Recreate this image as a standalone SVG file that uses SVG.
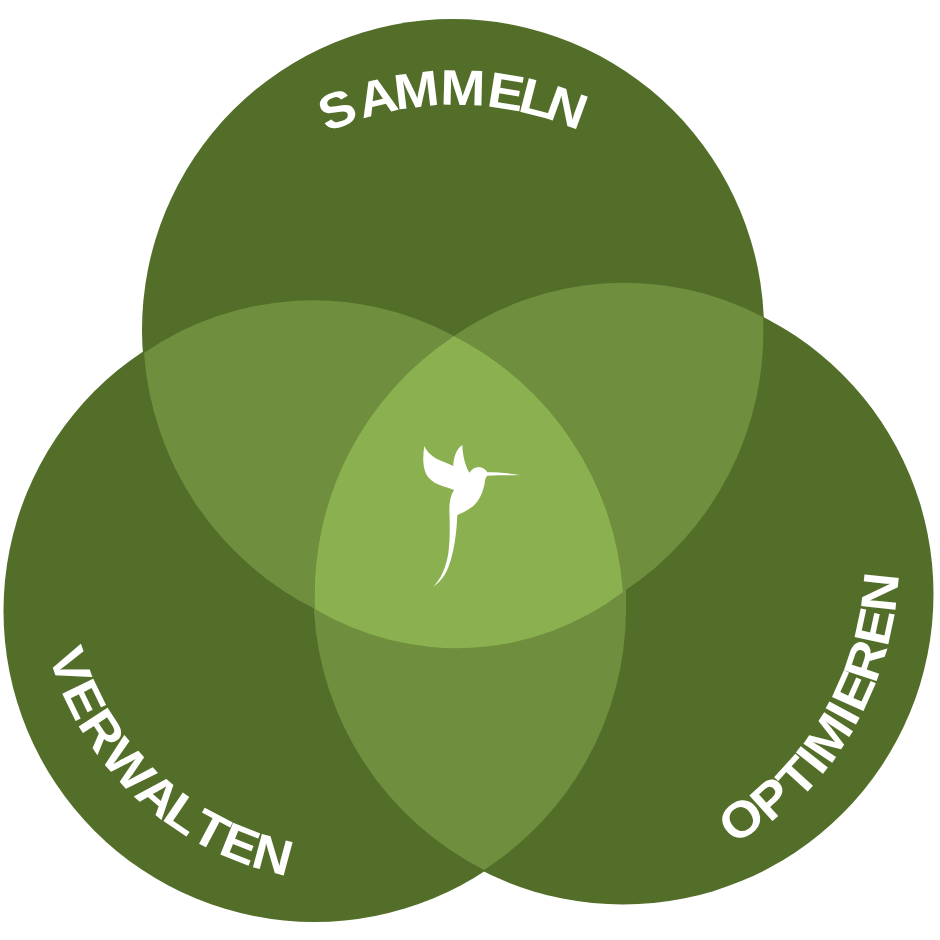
<svg xmlns="http://www.w3.org/2000/svg" width="940" height="940" viewBox="0 0 940 940">
<style>
.c{fill:#536e28}
.o{fill:#6f8e3e}
.m{fill:#8ab04f}
.l{font-family:"Liberation Sans",Arial,sans-serif;font-weight:700;font-size:50px;fill:#fff;text-anchor:middle}
</style>
<g id="circles">
<circle id="circle-top" class="c" cx="453" cy="330" r="311"/>
<circle id="circle-left" class="c" cx="314.500" cy="611" r="311"/>
<circle id="circle-right" class="c" cx="623" cy="594" r="310.500"/>
<path id="overlap-left" class="o" d="M144 353A297 297 0 0 1 454 336A309 309 0 0 0 315 609A311 311 0 0 1 144 353Z"/>
<path id="overlap-right" class="o" d="M454 336A298 298 0 0 1 763 317A311 311 0 0 1 623 592A310 310 0 0 0 454 336Z"/>
<path id="overlap-bottom" class="o" d="M314 600L626 585L626 612A311 311 0 0 1 484 870A311 311 0 0 1 314 612Z"/>
<path id="overlap-center" class="m" d="M454 336A310 310 0 0 1 623 592A275 275 0 0 1 315 609A309 309 0 0 1 454 336Z"/>
</g>
<g id="sammeln" class="l">
<text transform="translate(455 415) rotate(-21.100) translate(0 -310) scale(1.080 1)">S</text>
<text transform="translate(455 415) rotate(-13.800) translate(0 -310) scale(1.080 1)">A</text>
<text transform="translate(455 415) rotate(-6.800) translate(0 -310) scale(1.080 1)">M</text>
<text transform="translate(455 415) rotate(1.400) translate(0 -310) scale(1.080 1)">M</text>
<text transform="translate(455 415) rotate(9) translate(0 -310) scale(1.080 1)">E</text>
<text transform="translate(455 415) rotate(14.500) translate(0 -310) scale(1.080 1)">L</text>
<text transform="translate(455 415) rotate(20) translate(0 -310) scale(1.080 1)">N</text>
</g>
<g id="optimieren" class="l">
<text transform="translate(555 558) rotate(-35.500) translate(0 338) scale(1.080 1)">O</text>
<text transform="translate(555 558) rotate(-42) translate(0 341) scale(1.080 1)">P</text>
<text transform="translate(555 558) rotate(-47.900) translate(0 344) scale(1.080 1)">T</text>
<text transform="translate(555 558) rotate(-51.800) translate(0 344) scale(1.080 1)">I</text>
<text transform="translate(555 558) rotate(-56.700) translate(0 344) scale(1.080 1)">M</text>
<text transform="translate(555 558) rotate(-61.700) translate(0 344) scale(1.080 1)">I</text>
<text transform="translate(555 558) rotate(-66) translate(0 344) scale(1.080 1)">E</text>
<text transform="translate(555 558) rotate(-71.700) translate(0 344) scale(1.080 1)">R</text>
<text transform="translate(555 558) rotate(-77.900) translate(0 344) scale(1.080 1)">E</text>
<text transform="translate(555 558) rotate(-84) translate(0 344) scale(1.080 1)">N</text>
</g>
<g id="verwalten" class="l">
<text transform="translate(349 570) rotate(71) translate(0 312) scale(1.080 1)">V</text>
<text transform="translate(349 570) rotate(64) translate(0 312) scale(1.080 1)">E</text>
<text transform="translate(349 570) rotate(57) translate(0 312) scale(1.080 1)">R</text>
<text transform="translate(349 570) rotate(48.500) translate(0 312) scale(1.080 1)">W</text>
<text transform="translate(349 570) rotate(40.200) translate(0 312) scale(1.080 1)">A</text>
<text transform="translate(349 570) rotate(34.100) translate(0 312) scale(1.080 1)">L</text>
<text transform="translate(349 570) rotate(28) translate(0 312) scale(1.080 1)">T</text>
<text transform="translate(349 570) rotate(21.700) translate(0 312) scale(1.080 1)">E</text>
<text transform="translate(349 570) rotate(15) translate(0 312) scale(1.080 1)">N</text>
</g>
<g id="hummingbird">
<path fill="#fff" transform="translate(400 430) scale(.33333)" d="M73 48C82 68 100 82 118 90C135 97 150 103 160 108C160 90 165 60 187 45C188 75 195 105 208 128C215 118 225 111 238 111C250 112 258 120 262 127C295 127 330 130 360 135C330 136 290 135 262 137C256 142 255 150 254 160C248 190 238 212 220 228C205 240 188 248 172 255C170 300 165 345 155 380C145 420 130 450 100 470C125 445 138 410 145 370C150 330 150 290 148 240C148 215 152 195 162 180C135 170 105 165 88 145C70 128 66 90 73 48Z"/>
</g>
</svg>
